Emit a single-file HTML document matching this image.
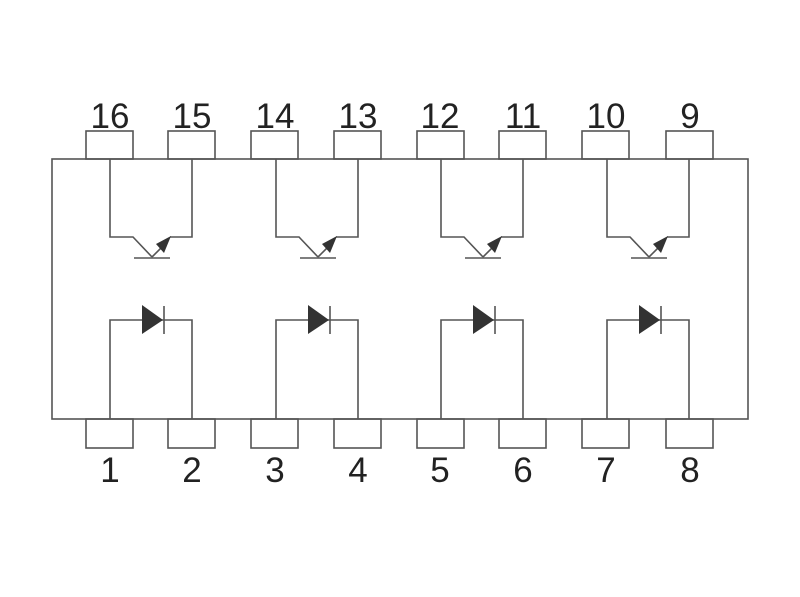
<!DOCTYPE html>
<html><head><style>body{margin:0;background:#fff}</style></head><body>
<svg width="800" height="592" viewBox="0 0 800 592" xmlns="http://www.w3.org/2000/svg">
<rect width="800" height="592" fill="#fff"/>
<g stroke="#555" stroke-width="1.6" fill="none">
<rect x="52" y="159" width="696" height="260"/>
</g>
<g font-family="Liberation Sans, sans-serif" font-size="35" fill="#222" text-anchor="middle">
<text x="110" y="128">16</text><text x="192" y="128">15</text><text x="275" y="128">14</text><text x="358" y="128">13</text>
<text x="440" y="128">12</text><text x="523" y="128">11</text><text x="606" y="128">10</text><text x="690" y="128">9</text>
<text x="110" y="482">1</text><text x="192" y="482">2</text><text x="275" y="482">3</text><text x="358" y="482">4</text>
<text x="440" y="482">5</text><text x="523" y="482">6</text><text x="606" y="482">7</text><text x="690" y="482">8</text>
</g>
<g stroke="#555" stroke-width="1.6" fill="none">
<rect x="86" y="131" width="47" height="28"/><rect x="168" y="131" width="47" height="28"/>
<rect x="251" y="131" width="47" height="28"/><rect x="334" y="131" width="47" height="28"/>
<rect x="417" y="131" width="47" height="28"/><rect x="499" y="131" width="47" height="28"/>
<rect x="582" y="131" width="47" height="28"/><rect x="666" y="131" width="47" height="28"/>
<rect x="86" y="419" width="47" height="29"/><rect x="168" y="419" width="47" height="29"/>
<rect x="251" y="419" width="47" height="29"/><rect x="334" y="419" width="47" height="29"/>
<rect x="417" y="419" width="47" height="29"/><rect x="499" y="419" width="47" height="29"/>
<rect x="582" y="419" width="47" height="29"/><rect x="666" y="419" width="47" height="29"/>
</g>
<defs>
<g id="cell">
<g stroke="#555" stroke-width="1.6" fill="none">
<polyline points="110,159 110,237 133,237 152,257"/>
<polyline points="192,159 192,237 170,237"/>
<line x1="134" y1="258" x2="170" y2="258"/>
<line x1="152" y1="257" x2="163" y2="246"/>
<polyline points="110,419 110,320 192,320 192,419"/>
<line x1="164" y1="306" x2="164" y2="334"/>
</g>
<polygon points="171,236 156,244 164,253" fill="#333"/>
<polygon points="142,305 142,334 163,320" fill="#333"/>
</g>
</defs>
<use href="#cell"/>
<use href="#cell" transform="translate(166,0)"/>
<use href="#cell" transform="translate(331,0)"/>
<use href="#cell" transform="translate(497,0)"/>
</svg>
</body></html>
